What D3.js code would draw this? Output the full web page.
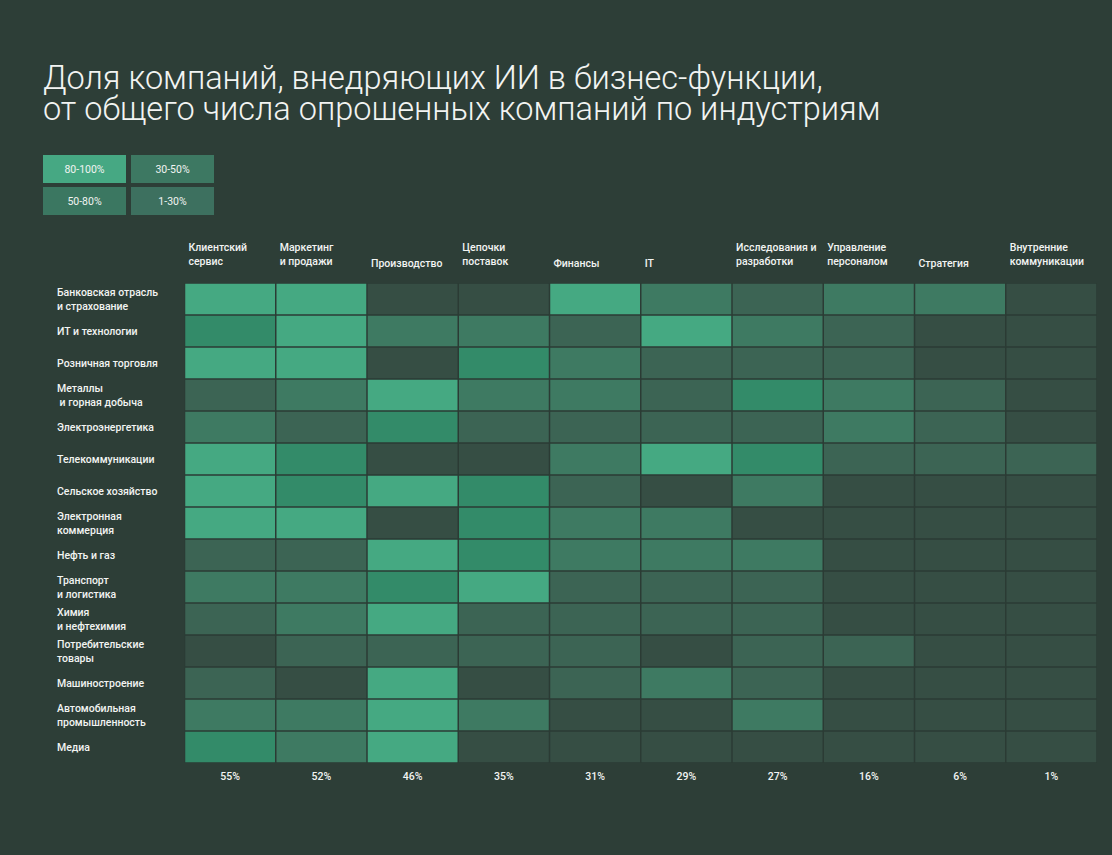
<!DOCTYPE html>
<html>
<head>
<meta charset="utf-8">
<script src="https://cdn.jsdelivr.net/npm/d3@7"></script>
<style>
  html, body { margin: 0; padding: 0; background: #2d3e37; }
  svg { display: block; }
  text { font-family: Roboto, "Noto Sans", sans-serif; fill: #f2f4f2; }
</style>
</head>
<body>
<div id="chart"></div>
<script>
const titleLines = [
  "Доля компаний, внедряющих ИИ в бизнес-функции,",
  "от общего числа опрошенных компаний по индустриям"
];

const functions = [
  "Клиентский\nсервис", "Маркетинг\nи продажи", "Производство", "Цепочки\nпоставок", "Финансы",
  "IT", "Исследования и\nразработки", "Управление\nперсоналом", "Стратегия", "Внутренние\nкоммуникации"
];

const industries = [
  "Банковская отрасль\nи страхование", "ИТ и технологии", "Розничная торговля", "Металлы\n и горная добыча",
  "Электроэнергетика", "Телекоммуникации", "Сельское хозяйство", "Электронная\nкоммерция", "Нефть и газ",
  "Транспорт\nи логистика", "Химия\nи нефтехимия", "Потребительские\nтовары", "Машиностроение",
  "Автомобильная\nпромышленность", "Медиа"
];

// bucket per cell: 4 = 80-100%, 3 = 50-80%, 2 = 30-50%, 1 = 1-30%, 0 = lowest
const levels = [
  [4, 4, 0, 0, 4, 2, 1, 2, 2, 0],
  [3, 4, 2, 2, 1, 4, 2, 1, 0, 0],
  [4, 4, 0, 3, 2, 1, 1, 1, 0, 0],
  [1, 2, 4, 2, 2, 1, 3, 2, 1, 0],
  [2, 1, 3, 1, 1, 1, 1, 2, 1, 0],
  [4, 3, 0, 0, 2, 4, 3, 1, 1, 1],
  [4, 3, 4, 3, 1, 0, 2, 0, 0, 0],
  [4, 4, 0, 3, 2, 2, 0, 0, 0, 0],
  [1, 1, 4, 3, 2, 2, 2, 0, 0, 0],
  [2, 2, 3, 4, 1, 1, 1, 0, 0, 0],
  [1, 2, 4, 1, 1, 1, 1, 0, 0, 0],
  [0, 1, 1, 1, 1, 0, 1, 1, 0, 0],
  [1, 0, 4, 0, 1, 2, 1, 0, 0, 0],
  [2, 2, 4, 2, 0, 0, 2, 0, 0, 0],
  [3, 2, 4, 0, 0, 0, 0, 0, 0, 0]
];

const totals = [55, 52, 46, 35, 31, 29, 27, 16, 6, 1];

const legendLabels = ["80-100%", "30-50%", "50-80%", "1-30%"];

const W = 1112, H = 855;
const svg = d3.select("#chart").append("svg").attr("width", W).attr("height", H);
svg.append("rect").attr("width", W).attr("height", H).attr("fill", "#2d3e37");

// title (one text, two lines)
svg.append("text")
  .style("font-size", "32.5px")
  .style("font-weight", 300)
  .selectAll("tspan")
  .data(titleLines)
  .join("tspan")
  .attr("x", 43)
  .attr("y", (d, i) => 89 + i * 31)
  .text(d => d);

// legend
const legendColor = d3.scaleOrdinal()
  .domain(legendLabels)
  .range(["#46a883", "#3d7862", "#3b7761", "#3d705f"]);

const lg = svg.append("g").attr("transform", "translate(43,155)");
const lgItems = lg.selectAll("g")
  .data(legendLabels)
  .join("g")
  .attr("transform", (d, i) => `translate(${(i % 2) * 88},${Math.floor(i / 2) * 32})`);
lgItems.append("rect")
  .attr("width", 83).attr("height", 28)
  .attr("fill", d => legendColor(d));
lgItems.append("text")
  .attr("x", 41.5).attr("y", 14)
  .attr("text-anchor", "middle")
  .attr("dominant-baseline", "central")
  .style("font-size", "10.5px")
  .text(d => d);

// heatmap scales
const x = d3.scaleBand().domain(d3.range(functions.length)).range([184.5, 1097]);
const y = d3.scaleBand().domain(d3.range(industries.length)).range([283, 763]);
const color = d3.scaleOrdinal()
  .domain([0, 1, 2, 3, 4])
  .range(["#364e44", "#3c6454", "#3e7a62", "#338b69", "#45a982"]);

const cells = [];
levels.forEach((row, r) => row.forEach((v, c) => cells.push({ r, c, v })));

svg.append("rect")
  .attr("x", x.range()[0]).attr("y", y.range()[0])
  .attr("width", x.range()[1] - x.range()[0])
  .attr("height", y.range()[1] - y.range()[0])
  .attr("fill", "#2b3b34");

svg.append("g").selectAll("rect")
  .data(cells)
  .join("rect")
  .attr("x", d => x(d.c) + 0.75)
  .attr("y", d => y(d.r) + 0.75)
  .attr("width", x.bandwidth() - 1.5)
  .attr("height", y.bandwidth() - 1.5)
  .attr("fill", d => color(d.v));

// column headers
const headers = svg.append("g").selectAll("text")
  .data(functions)
  .join("text")
  .attr("x", (d, i) => x(i) + 4)
  .attr("y", 0)
  .style("font-size", "10.5px")
  .style("font-weight", 500);
headers.each(function (d, i) {
  const lines = d.split("\n");
  const base = lines.length === 1 ? 267 : 251;
  d3.select(this).selectAll("tspan")
    .data(lines)
    .join("tspan")
    .attr("x", x(i) + 4)
    .attr("y", (l, k) => base + k * 14)
    .text(l => l);
});

// row labels
const rowLabels = svg.append("g").selectAll("text")
  .data(industries)
  .join("text")
  .style("font-size", "10.5px")
  .style("font-weight", 500);
rowLabels.each(function (d, i) {
  const lines = d.split("\n");
  const cy = y(i) + y.bandwidth() / 2;
  const start = cy - (lines.length - 1) * 7;
  d3.select(this).selectAll("tspan")
    .data(lines)
    .join("tspan")
    .attr("x", 57)
    .attr("y", (l, k) => start + k * 14)
    .attr("dominant-baseline", "central")
    .attr("xml:space", "preserve")
    .text(l => l);
});

// totals under columns
svg.append("g").selectAll("text")
  .data(totals)
  .join("text")
  .attr("x", (d, i) => x(i) + x.bandwidth() / 2)
  .attr("y", 776)
  .attr("text-anchor", "middle")
  .attr("dominant-baseline", "central")
  .style("font-size", "10.5px")
  .style("font-weight", 500)
  .text(d => d + "%");
</script>
</body>
</html>
